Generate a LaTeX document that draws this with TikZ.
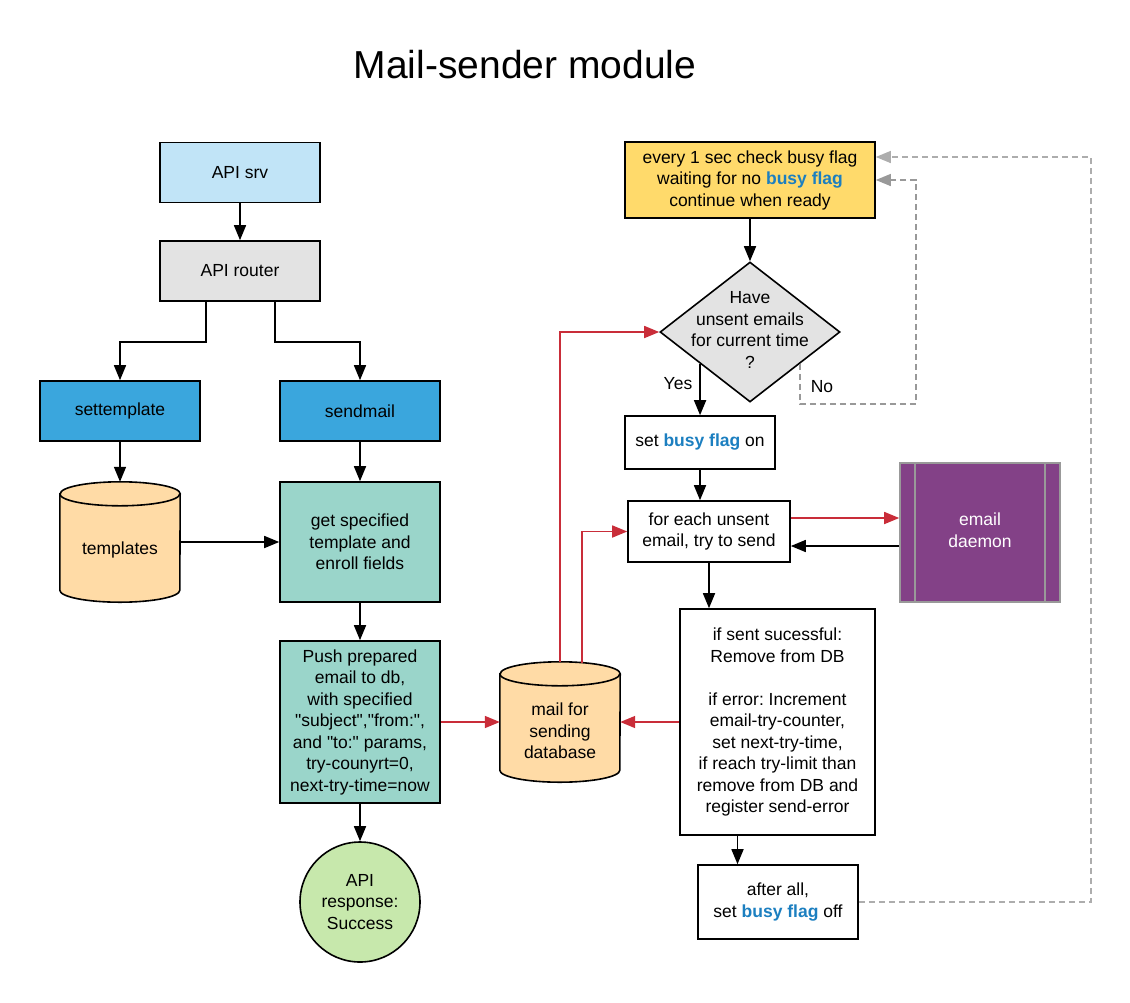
\documentclass[tikz,border=0pt]{standalone}
\usepackage{fontspec}
\setmainfont{Liberation Sans}
\frenchspacing
\usetikzlibrary{shapes.geometric}
\usetikzlibrary{positioning}
\usetikzlibrary{arrows.meta}
\usetikzlibrary{calc}

\definecolor{srvblue}{HTML}{C1E4F7}
\definecolor{routergray}{HTML}{E3E3E3}
\definecolor{apiblue}{HTML}{3AA6DD}
\definecolor{stepteal}{HTML}{9AD5CA}
\definecolor{dbpeach}{HTML}{FFDBA6}
\definecolor{respgreen}{HTML}{C7E8AC}
\definecolor{waityellow}{HTML}{FFDA6B}
\definecolor{daemonpurple}{HTML}{834187}
\definecolor{flagblue}{HTML}{1C7FC0}
\definecolor{linkred}{HTML}{C92D39}
\definecolor{loopgray}{HTML}{ADADAD}
\definecolor{nogray}{HTML}{999999}

\newcommand{\busyflag}{\textcolor{flagblue}{\textbf{busy flag}}}
\newcommand{\dq}{\textquotedbl}

\begin{document}
\begin{tikzpicture}[x=1pt,y=-1pt,
            >={Triangle[length=15pt,width=12pt]},
            font=\fontsize{17.5}{21.5}\selectfont,
            box/.style = {draw,line width=1.6pt,align=center,
                minimum width=160pt,minimum height=60pt,inner sep=2pt},
            cyl/.style = {minimum width=120pt,minimum height=120pt,inner sep=0pt},
            flow/.style = {->,line width=1.6pt},
            redflow/.style = {->,line width=1.6pt,draw=linkred},
            back/.style = {->,line width=1.4pt,draw=loopgray,
                dash pattern=on 6pt off 4pt}]
            \useasboundingbox (0,0) rectangle (1130,1002);
            \node[font=\fontsize{39}{45}\selectfont] (title) at (525,65) {Mail-sender module};
            % left column
            \node[box,fill=srvblue] (srv) at (240,172.5) {API srv};
            \node[box,fill=routergray] (rtr) at (240,271) {API router};
            \node[box,fill=apiblue] (stpl) at (120,411) {settemplate};
            \node[box,fill=apiblue] (smail) at (360,411) {sendmail};
            \node[cyl] (tpl) at (120,542) {};
            \node[box,fill=stepteal,minimum height=120pt] (gsf) at (360,542)
                {get specified\\template and\\enroll fields};
            \node[box,fill=stepteal,minimum height=162pt] (push) at (360,722)
                {Push prepared\\email to db,\\with specified\\\dq subject\dq,\dq from:\dq,\\and \dq to:\dq{} params,\\try-counyrt=0,\\next-try-time=now};
            \node[circle,draw,line width=1.6pt,fill=respgreen,minimum size=120pt,
                inner sep=0pt,align=center] (resp) at (360,902) {API\\response:\\Success};
            \node[cyl] (db) at (560,722) {};
            % cylinders for the two stores
            \foreach \c in {tpl,db} {
                \draw[line width=1.6pt,fill=dbpeach] ([yshift=-12pt]\c.north west)
                    -- ([yshift=12pt]\c.south west)
                    arc[start angle=180,end angle=0,x radius=60,y radius=12]
                    -- ([yshift=-12pt]\c.north east)
                    arc[start angle=0,end angle=-180,x radius=60,y radius=12] -- cycle;
                \draw[line width=1.6pt] ([yshift=-12pt]\c.north west)
                    arc[start angle=180,end angle=0,x radius=60,y radius=12];
            }
            \node (tpltext) at (120,550) {templates};
            \node[align=center] (dbtext) at (560,731) {mail for\\sending\\database};
            % right column
            \node[box,fill=waityellow,minimum width=250pt,minimum height=76pt] (wait) at (750,180)
                {every 1 sec check busy flag\\waiting for no \busyflag\\continue when ready};
            \node[diamond,draw,line width=1.6pt,fill=routergray,minimum width=180pt,
                minimum height=140pt,inner sep=0pt] (q) at (750,332) {};
            \node[align=center] (qtext) at (750,330) {Have\\unsent emails\\for current time\\?};
            \node[box,minimum width=150pt,minimum height=53pt] (bon) at (700,442.5) {set \busyflag{} on};
            \node[box,minimum width=162pt,minimum height=61pt] (each) at (709,531.5)
                {for each unsent\\email, try to send};
            \node[box,minimum width=195pt,minimum height=226pt] (res) at (777.5,722)
                {if sent sucessful:\\Remove from DB\\[21.5pt]if error: Increment\\email-try-counter,\\set next-try-time,\\if reach try-limit than\\remove from DB and\\register send-error};
            \node[box,minimum width=160pt,minimum height=74pt] (off) at (778,902)
                {after all,\\set \busyflag{} off};
            \node[box,draw=nogray,fill=daemonpurple,text=white,minimum width=160pt,
                minimum height=139pt] (dmn) at (980,532.5) {};
            \draw[nogray,line width=1.6pt] ([xshift=16pt]dmn.north west) -- ([xshift=16pt]dmn.south west);
            \draw[nogray,line width=1.6pt] ([xshift=-16pt]dmn.north east) -- ([xshift=-16pt]dmn.south east);
            \node[text=white,align=center] (dmntext) at (980,530) {email\\daemon};
            \node (yes) at (678,384) {Yes};
            \node (no) at (822,387) {No};
            \coordinate (yesfrom) at ($(q.west)!0.45!(q.south)$);
            \coordinate (nofrom) at ($(q.south)!0.55!(q.east)$);
            % black connectors
            \path[flow]
                (srv) edge (rtr)
                (stpl) edge (tpl)
                (smail) edge (gsf)
                (gsf) edge (push)
                (push) edge (resp)
                (wait) edge (q);
            \draw[flow] (tpl.east |- gsf.west) -- (gsf.west);
            \draw[flow] ([xshift=-34pt]rtr.south) -- ++(0,40) -| (stpl.north);
            \draw[flow] ([xshift=35pt]rtr.south) -- ++(0,40) -| (smail.north);
            \draw[flow] (yesfrom) -- (yesfrom |- bon.north);
            \draw[flow] (bon.south) -- (bon.south |- each.north);
            \draw[flow] (each.south) -- (each.south |- res.north);
            \draw[flow] ([xshift=-40pt]res.south) -- ([xshift=-40pt]res.south |- off.north);
            \draw[flow] ([yshift=-13.5pt]dmn.west) -- ([yshift=-13.5pt]dmn.west -| each.east);
            % red connectors
            \draw[redflow] (push.east) -- (push.east -| db.west);
            \draw[redflow] (res.west) -- (res.west -| db.east);
            \draw[redflow] (db.north) |- (q.west);
            \draw[redflow] ([xshift=22pt,yshift=-1pt]db.north) |- (each.west);
            \draw[redflow] ([yshift=13.5pt]each.east) -- ([yshift=13.5pt]each.east -| dmn.west);
            % dashed loops
            \draw[back,draw=nogray] (nofrom) |- (916,404) |- (wait.east);
            \draw[back] (off.east) -- ++(232,0) |- ([yshift=23pt]wait.east);
        \end{tikzpicture}
\end{document}
